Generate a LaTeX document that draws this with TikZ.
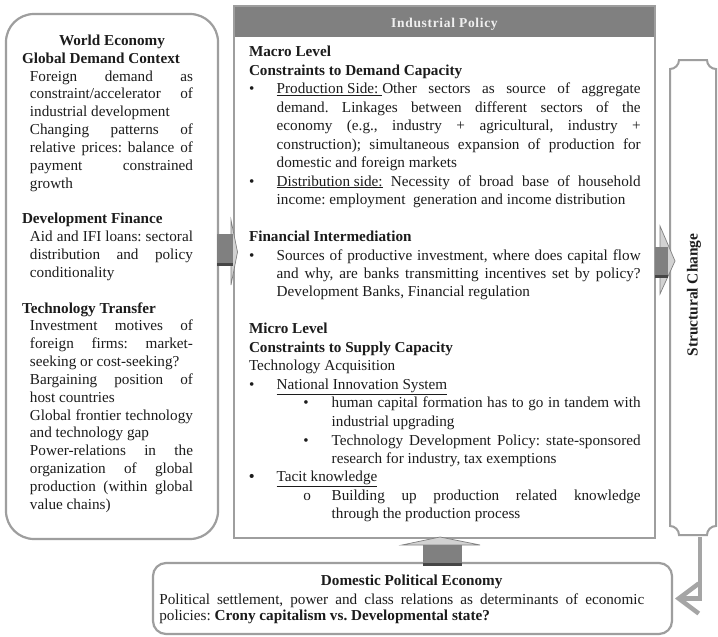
\documentclass[tikz,border=0pt]{standalone}
\usepackage{fontspec}
\setmainfont{Liberation Serif}
\usetikzlibrary{arrows.meta}

\definecolor{framegray}{RGB}{158,158,158}
\definecolor{headgray}{RGB}{128,128,128}
\definecolor{headtext}{RGB}{240,240,240}
\definecolor{shaftgray}{RGB}{128,128,128}
\definecolor{shadowgray}{RGB}{70,70,70}
\definecolor{bevelgray}{RGB}{210,210,210}
\definecolor{linkgray}{RGB}{165,165,165}
\definecolor{ink}{RGB}{28,28,28}

% natural word spaces (undo the rigid spacing that align=left sets)
\newcommand\plainspaces{\spaceskip=0pt \xspaceskip=0pt \frenchspacing}
% a line stretched to a given width (justified)
\newcommand\jl[2]{\makebox[#1][s]{\plainspaces #2}}
% first and second level bullets
\newcommand\bl{\makebox[27.7pt][l]{•}}
\newcommand\bltwo{\hspace*{54.4pt}\makebox[28.3pt][l]{•}}
\newcommand\ind{\hspace*{27.7pt}}
\newcommand\indtwo{\hspace*{82.7pt}}

\tikzset{
  frame/.style={draw=framegray, line width=2.2pt},
  box/.style={inner sep=0pt, outer sep=0pt},
  txt/.style={inner sep=0pt, outer sep=0pt, anchor=base west, align=left, text=ink},
  shaft/.style={fill=shaftgray},
  shade/.style={fill=shadowgray},
  bevel/.style={fill=bevelgray, draw=shaftgray, line width=0.7pt, line join=miter},
  link/.style={draw=linkgray, line width=4.5pt, -{Straight Barb[length=20pt,width=30pt]}}
}

\begin{document}
\begin{tikzpicture}[x=1pt,y=-1pt]
\useasboundingbox (0,0) rectangle (718,637);
\fill[white] (0,0) rectangle (718,637);

% ---------- boxes ----------
\node[box, frame, rounded corners=28pt, minimum width=212pt, minimum height=525pt] (world) at (112,276.5) {};

\node[box, minimum width=421pt, minimum height=532pt] (policy) at (444.5,272) {};
\node[box, fill=headgray, minimum width=421pt, minimum height=31pt, anchor=north] (head) at (policy.north) {};
\draw[frame] (policy.north west) rectangle (policy.south east);
\node[inner sep=0pt, anchor=base, text=headtext,
      font=\fontsize{13.5pt}{15pt}\selectfont\bfseries\addfontfeature{LetterSpace=5}] (headlbl) at (444.5,27.3) {Industrial Policy};

\node[box, frame, rounded corners=13pt, minimum width=519pt, minimum height=71pt] (dpe) at (412.5,598.5) {};

\node[box, minimum width=46pt, minimum height=475pt] (struct) at (693,297.5) {};
\draw[draw=framegray, line width=2pt]
  (670,69) .. controls (674.95,69) and (679,64.95) .. (679,60)
  -- (707,60) .. controls (707,64.95) and (711.05,69) .. (716,69)
  -- (716,526) .. controls (711.05,526) and (707,530.05) .. (707,535)
  -- (679,535) .. controls (679,530.05) and (674.95,526) .. (670,526)
  -- cycle;
\node[inner sep=0pt, rotate=90, text=ink, font=\fontsize{15.4pt}{18pt}\selectfont\bfseries] (sclabel) at (694,295) {Structural Change};

% ---------- block arrows ----------
% world economy into industrial policy
\filldraw[bevel] (231,220) -- (237.5,252) -- (231,285) -- cycle;
\fill[shaft] (217,234) rectangle (233,263);
\fill[shade] (217,263) rectangle (233,266);
% industrial policy into structural change
\filldraw[bevel] (660,226) -- (675,261) -- (660,294) -- cycle;
\fill[shaft] (655,247) rectangle (668,275);
\fill[shade] (655,275) rectangle (668,278);
% domestic political economy up into industrial policy
\filldraw[bevel] (402,545) -- (440,537) -- (480,545) -- cycle;
\fill[shaft] (423,545) rectangle (462,563);
\fill[shade] (423,563) rectangle (462,566);

% structural change back to domestic political economy
\coordinate (drop) at (700,0);
\draw[link, shorten <=2pt, shorten >=3pt] (struct.south -| drop) |- (dpe.east);

% ---------- texts ----------
\node[txt, text width=180pt, font=\fontsize{15.2pt}{17.85pt}\selectfont] (worldtxt) at (22,45.3) {\plainspaces
\makebox[180pt]{\bfseries World Economy}\\
\textbf{Global Demand Context}\\
\hspace*{8pt}\jl{163pt}{Foreign demand as}\\
\hspace*{8pt}\jl{163pt}{constraint/accelerator of}\\
\hspace*{8pt}industrial development\\
\hspace*{8pt}\jl{163pt}{Changing patterns of}\\
\hspace*{8pt}\jl{163pt}{relative prices: balance of}\\
\hspace*{8pt}\jl{163pt}{payment constrained}\\
\hspace*{8pt}growth\\[17.85pt]
\textbf{Development Finance}\\
\hspace*{8pt}\jl{163pt}{Aid and IFI loans: sectoral}\\
\hspace*{8pt}\jl{163pt}{distribution and policy}\\
\hspace*{8pt}conditionality\\[17.85pt]
\textbf{Technology Transfer}\\
\hspace*{8pt}\jl{163pt}{Investment motives of}\\
\hspace*{8pt}\jl{163pt}{foreign firms: market-}\\
\hspace*{8pt}seeking or cost-seeking?\\
\hspace*{8pt}\jl{163pt}{Bargaining position of}\\
\hspace*{8pt}host countries\\
\hspace*{8pt}\jl{163pt}{Global frontier technology}\\
\hspace*{8pt}and technology gap\\
\hspace*{8pt}\jl{163pt}{Power-relations in the}\\
\hspace*{8pt}\jl{163pt}{organization of global}\\
\hspace*{8pt}\jl{163pt}{production (within global}\\
\hspace*{8pt}value chains)};

\node[txt, text width=392pt, font=\fontsize{15.2pt}{18.5pt}\selectfont] (policytxt) at (249,56.5) {\plainspaces
\textbf{Macro Level}\\
\textbf{Constraints to Demand Capacity}\\
\bl\jl{364pt}{\underline{Production Side: }Other sectors as source of aggregate}\\
\ind\jl{364pt}{demand. Linkages between different sectors of the}\\
\ind\jl{364pt}{economy (e.g., industry + agricultural, industry +}\\
\ind\jl{364pt}{construction); simultaneous expansion of production for}\\
\ind domestic and foreign markets\\
\bl\jl{364pt}{\underline{Distribution side:} Necessity of broad base of household}\\
\ind income: employment\ \ generation and income distribution\\[18.5pt]
\textbf{Financial Intermediation}\\
\bl\jl{364pt}{Sources of productive investment, where does capital flow}\\
\ind\jl{364pt}{and why, are banks transmitting incentives set by policy?}\\
\ind Development Banks, Financial regulation\\[18.5pt]
\textbf{Micro Level}\\
\textbf{Constraints to Supply Capacity}\\
Technology Acquisition\\
\bl\underline{National Innovation System}\\
\bltwo\jl{309pt}{human capital formation has to go in tandem with}\\
\indtwo industrial upgrading\\
\bltwo\jl{309pt}{Technology Development Policy: state-sponsored}\\
\indtwo research for industry, tax exemptions\\
\makebox[27.7pt][l]{\textbf{•}}\underline{Tacit knowledge}\\
\hspace*{54.4pt}\makebox[28.3pt][l]{o}\jl{309pt}{Building up production related knowledge}\\
\indtwo through the production process};

\node[inner sep=0pt, anchor=base, text=ink, font=\fontsize{15.2pt}{17.5pt}\selectfont\bfseries] (dpetitle) at (411.7,585.7) {Domestic Political Economy};
\node[txt, text width=486pt, font=\fontsize{15.2pt}{16.6pt}\selectfont] (dpetxt) at (159.3,604.3) {\plainspaces
\jl{485pt}{Political settlement, power and class relations as determinants of economic}\\
policies: \textbf{Crony capitalism vs. Developmental state?}};
\end{tikzpicture}
\end{document}
